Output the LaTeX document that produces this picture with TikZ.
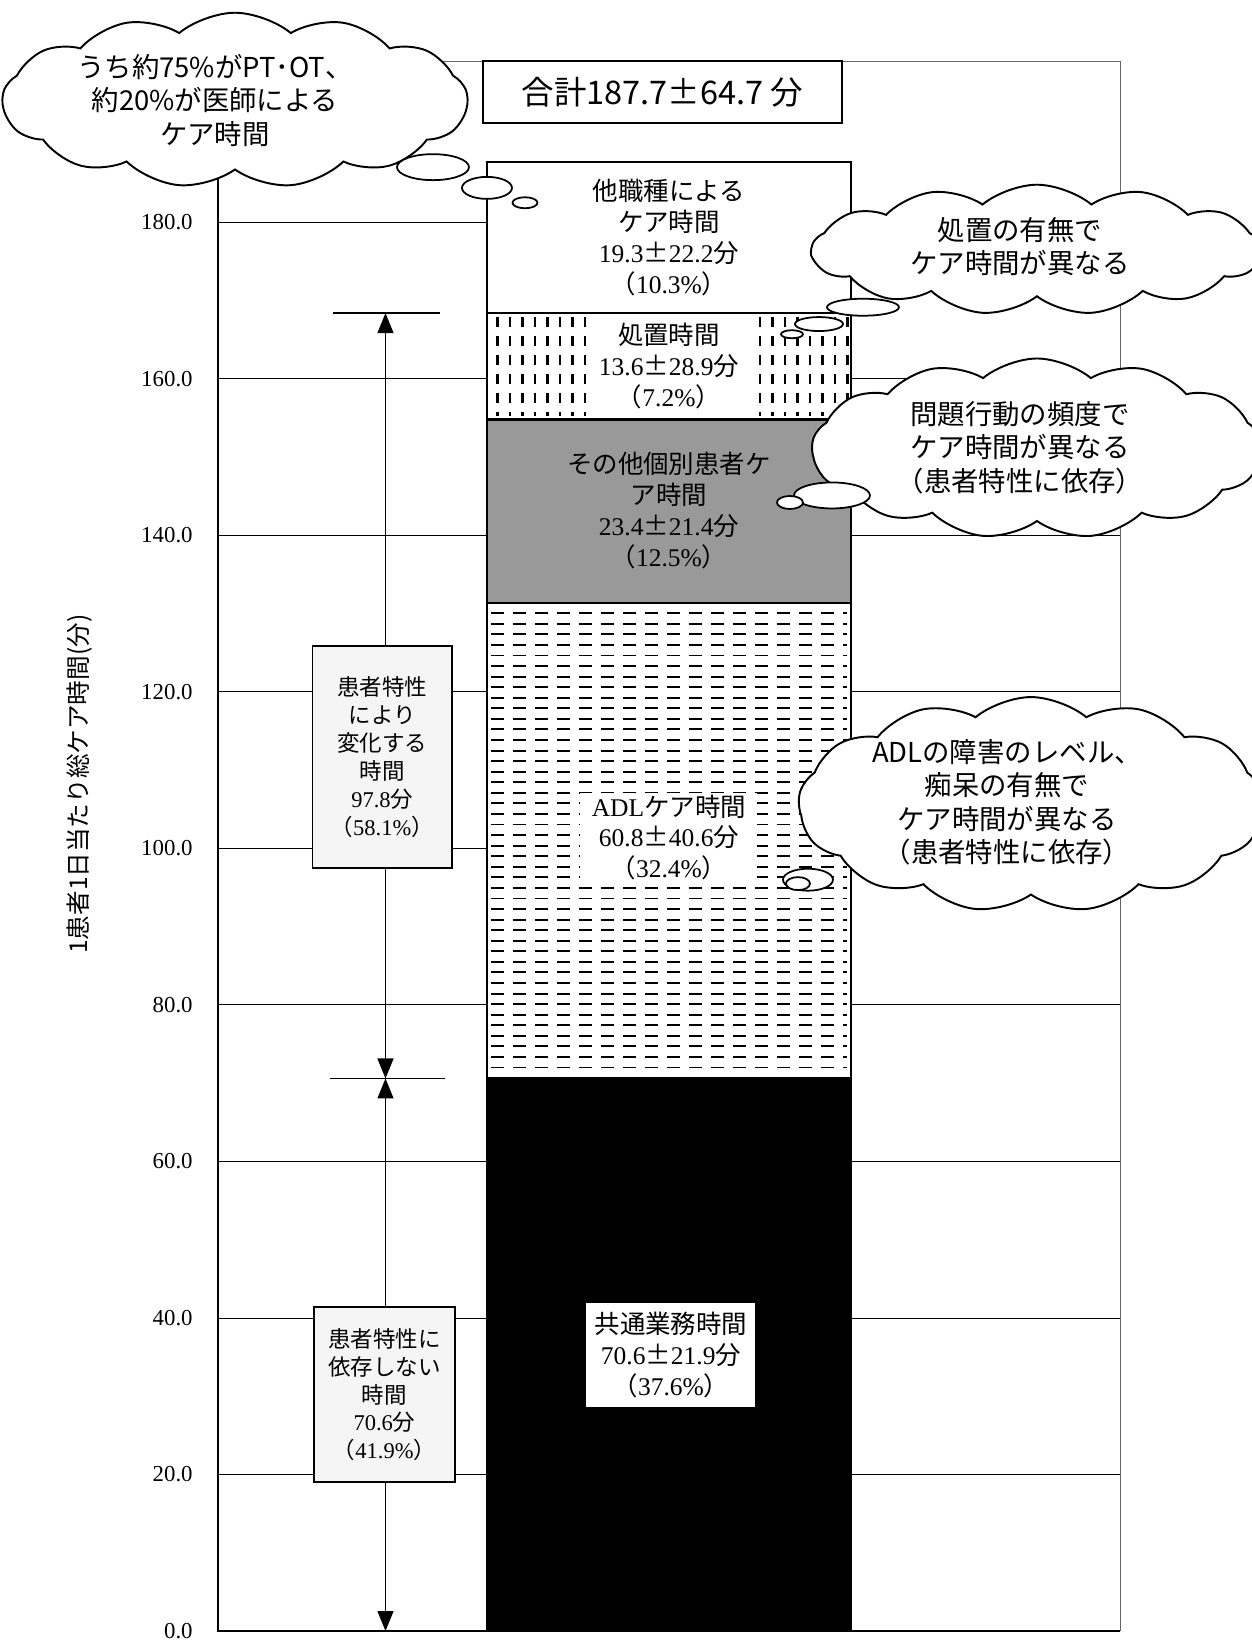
\documentclass[tikz,border=0pt]{standalone}
\usepackage{fontspec}
\setmainfont{Liberation Serif}
\newfontfamily\jp{Noto Sans CJK JP}
\usepackage{tikz}
\usetikzlibrary{shapes.symbols}
\usetikzlibrary{arrows.meta}

\tikzset{
  gridline/.style={line width=0.5pt},
  barpart/.style={draw, line width=1.2pt},
  barlabel/.style={align=center, font=\fontsize{14.5}{17.6}\selectfont, inner sep=1pt},
  sidebox/.style={draw, line width=1pt, fill=black!4, align=center, font=\fontsize{12.8}{15.9}\selectfont, inner sep=0pt},
  thought/.style={draw, cloud, cloud puffs=13, cloud puff arc=80, cloud ignores aspect, fill=white, line width=1.1pt, inner sep=0pt},
  thoughttext/.style={align=center, font=\jp\fontsize{15.6}{19}\selectfont},
  bubble/.style={draw, fill=white, line width=1pt},
  ticklabel/.style={anchor=east, font=\fontsize{13}{15}\selectfont, inner sep=0pt},
  spanarrow/.style={line width=0.8pt, {Triangle[length=0.4cm,width=0.32cm]}-{Triangle[length=0.4cm,width=0.32cm]}},
}

\begin{document}
\begin{tikzpicture}[x=1cm, y=0.15652cm]
    \useasboundingbox (0,-1.533) rectangle (25.04,208.41);

    % grid and frame
    \foreach \v in {20,40,...,180}
        \draw[gridline] (4.36,\v) -- (22.4,\v);
    \draw[line width=0.5pt, black!60] (4.36,200.6) -- (22.4,200.6) -- (22.4,0);
    \draw[line width=1pt] (4.36,200.6) -- (4.36,0) -- (22.4,0);
    \foreach \v in {0,20,...,180}
        \node[ticklabel] (tick\v) at (3.86,\v) {\v.0};

    % bar
    \draw[barpart, fill=black] (9.74,0) rectangle (17.02,70.6);
    \draw[barpart, fill=white] (9.74,70.6) rectangle (17.02,131.4);
    \foreach \v in {72.0,73.35,...,130.5}
        \draw[line width=1.1pt, dash pattern=on 0.26cm off 0.18cm] (9.82,\v) -- (16.95,\v);
    \draw[barpart, fill=black!40] (9.74,131.4) rectangle (17.02,154.8);
    \draw[barpart, fill=white] (9.74,154.8) rectangle (17.02,168.4);
    \foreach \x in {9.95,10.2,...,16.95}
        \draw[line width=1.2pt, dash pattern=on 0.2cm off 0.18cm] (\x,167.9) -- (\x,155.3);
    \draw[barpart, fill=white] (9.74,168.4) rectangle (17.02,187.7);

    \node[barlabel, fill=white, minimum width=3.38cm, minimum height=2.08cm] (common) at (13.42,35.3)
        {{\jp 共通業務時間}\\70.6{\jp ±}21.9{\jp 分}\\{\jp （}37.6\%{\jp ）}};
    \node[barlabel, fill=white, minimum width=3.54cm, minimum height=1.62cm] (adl) at (13.38,101.4)
        {ADL{\jp ケア時間}\\60.8{\jp ±}40.6{\jp 分}\\{\jp （}32.4\%{\jp ）}};
    \node[barlabel] (other) at (13.38,143.2)
        {{\jp その他個別患者ケ}\\{\jp ア時間}\\23.4{\jp ±}21.4{\jp 分}\\{\jp （}12.5\%{\jp ）}};
    \node[barlabel, fill=white, minimum width=3.28cm, minimum height=2.05cm] (treat) at (13.38,161.6)
        {{\jp 処置時間}\\13.6{\jp ±}28.9{\jp 分}\\{\jp （}7.2\%{\jp ）}};
    \node[barlabel] (staff) at (13.38,178.1)
        {{\jp 他職種による}\\{\jp ケア時間}\\19.3{\jp ±}22.2{\jp 分}\\{\jp （}10.3\%{\jp ）}};

    \node[draw, line width=1pt, minimum width=7.18cm, minimum height=1.24cm, font=\jp\fontsize{18.5}{21}\selectfont] (total) at (13.25,196.65) {合計187.7±64.7 分};

    % left spans
    \coordinate (vtop) at (7.71,168.4);
    \coordinate (vmid) at (7.71,70.6);
    \coordinate (vbot) at (7.71,0);
    \draw[line width=0.8pt] (6.66,168.4) -- (8.8,168.4);
    \draw[line width=0.8pt] (6.6,70.6) -- (8.9,70.6);
    \draw[spanarrow] (vtop) -- (vmid);
    \draw[spanarrow] (vmid) -- (vbot);
    \node[sidebox, minimum width=2.79cm, minimum height=4.44cm] (varies) at (7.645,111.7)
        {{\jp 患者特性}\\{\jp により}\\{\jp 変化する}\\{\jp 時間}\\97.8{\jp 分}\\{\jp （}58.1\%{\jp ）}};
    \node[sidebox, minimum width=2.82cm, minimum height=3.5cm] (fixed) at (7.69,30.2)
        {{\jp 患者特性に}\\{\jp 依存しない}\\{\jp 時間}\\70.6{\jp 分}\\{\jp （}41.9\%{\jp ）}};

    % clouds
    \node[thought, minimum width=9.3cm, minimum height=3.5cm] (cloudstaff) at (4.7,195.6) {};
    \node[thoughttext] (cloudstafftext) at (4.3,195.6) {うち約75\%がPT･OT、\\約20\%が医師による\\ケア時間};
    \draw[bubble] (8.66,187.05) ellipse (0.72cm and 0.26cm);
    \draw[bubble] (9.74,184.4) ellipse (0.5cm and 0.22cm);
    \draw[bubble] (10.5,182.5) ellipse (0.25cm and 0.11cm);

    \node[thought, minimum width=9.0cm, minimum height=2.6cm] (cloudtreat) at (20.74,176.5) {};
    \node[thoughttext] (cloudtreattext) at (20.4,176.9) {処置の有無で\\ケア時間が異なる};
    \draw[bubble] (17.26,169.15) ellipse (0.72cm and 0.17cm);
    \draw[bubble] (16.38,167.0) ellipse (0.48cm and 0.14cm);
    \draw[bubble] (15.84,165.7) ellipse (0.22cm and 0.08cm);

    \node[thought, minimum width=9.0cm, minimum height=3.6cm] (cloudother) at (20.74,151.1) {};
    \node[thoughttext] (cloudothertext) at (20.4,151.2) {問題行動の頻度で\\ケア時間が異なる\\（患者特性に依存）};
    \draw[bubble] (16.64,145.1) ellipse (0.76cm and 0.26cm);
    \draw[bubble] (15.8,144.2) ellipse (0.26cm and 0.13cm);

    \node[thought, minimum width=9.3cm, minimum height=4.3cm] (cloudadl) at (20.62,105.6) {};
    \node[thoughttext] (cloudadltext) at (20.14,105.9) {ADLの障害のレベル、\\痴呆の有無で\\ケア時間が異なる\\（患者特性に依存）};
    \draw[bubble] (16.16,96.0) ellipse (0.5cm and 0.22cm);
    \draw[bubble] (15.96,95.5) ellipse (0.24cm and 0.13cm);

    % axis title
    \node[rotate=90, font=\jp\fontsize{14}{16}\selectfont] (ytitle) at (1.6,108.2) {1患者1日当たり総ケア時間(分)};
\end{tikzpicture}
\end{document}
